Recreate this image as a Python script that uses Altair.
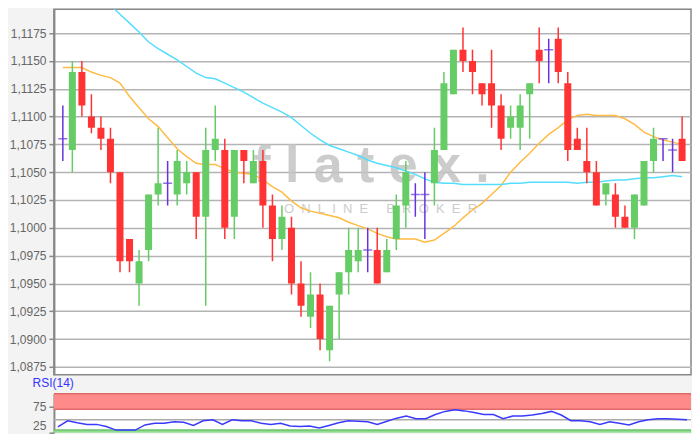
import altair as alt
import numpy as np
import pandas as pd

# ---- price candles ----
opens = [1.1080, 1.1070, 1.1140, 1.1100, 1.1090, 1.1080, 1.1050, 1.0990, 1.0950, 1.0980,
         1.1030, 1.1040, 1.1030, 1.1040, 1.1050, 1.1010, 1.1070, 1.1070, 1.1010, 1.1070,
         1.1040, 1.1060, 1.1020, 1.0990, 1.1000, 1.0950, 1.0920, 1.0940, 1.0890, 1.0940,
         1.0960, 1.0970, 1.0980, 1.0980, 1.0960, 1.0990, 1.1020, 1.1030, 1.1030, 1.1040,
         1.1070, 1.1120, 1.1160, 1.1150, 1.1130, 1.1130, 1.1110, 1.1090, 1.1090, 1.1120,
         1.1160, 1.1160, 1.1170, 1.1130, 1.1080, 1.1060, 1.1050, 1.1030, 1.1030, 1.1010,
         1.1000, 1.1020, 1.1060, 1.1080, 1.1070, 1.1080]
highs = [1.1110, 1.1150, 1.1150, 1.1120, 1.1100, 1.1090, 1.1050, 1.0990, 1.0980, 1.1030,
         1.1090, 1.1060, 1.1070, 1.1060, 1.1050, 1.1090, 1.1110, 1.1080, 1.1070, 1.1070,
         1.1070, 1.1070, 1.1030, 1.1020, 1.1010, 1.0970, 1.0960, 1.0950, 1.0930, 1.0960,
         1.1000, 1.1000, 1.1000, 1.1000, 1.0990, 1.1030, 1.1060, 1.1040, 1.1050, 1.1090,
         1.1140, 1.1160, 1.1180, 1.1160, 1.1130, 1.1160, 1.1120, 1.1110, 1.1120, 1.1130,
         1.1180, 1.1170, 1.1180, 1.1140, 1.1090, 1.1090, 1.1060, 1.1040, 1.1040, 1.1020,
         1.1030, 1.1060, 1.1090, 1.1080, 1.1080, 1.1100]
lows = [1.1060, 1.1050, 1.1100, 1.1085, 1.1070, 1.1040, 1.0960, 1.0960, 1.0930, 1.0970,
        1.1020, 1.1020, 1.1020, 1.1030, 1.0990, 1.0930, 1.1060, 1.0990, 1.0990, 1.1040,
        1.1040, 1.1000, 1.0970, 1.0980, 1.0940, 1.0920, 1.0910, 1.0890, 1.0880, 1.0900,
        1.0940, 1.0960, 1.0960, 1.0950, 1.0960, 1.0980, 1.1000, 1.1010, 1.0990, 1.1020,
        1.1070, 1.1120, 1.1140, 1.1120, 1.1110, 1.1090, 1.1070, 1.1080, 1.1070, 1.1080,
        1.1130, 1.1130, 1.1130, 1.1060, 1.1070, 1.1040, 1.1020, 1.1020, 1.1000, 1.1000,
        1.0990, 1.1020, 1.1050, 1.1060, 1.1050, 1.1060]
closes = [1.1080, 1.1140, 1.1110, 1.1090, 1.1080, 1.1050, 1.0970, 1.0970, 1.0970, 1.1030,
          1.1040, 1.1040, 1.1060, 1.1050, 1.1010, 1.1070, 1.1080, 1.1000, 1.1070, 1.1060,
          1.1060, 1.1020, 1.0990, 1.1010, 1.0950, 1.0930, 1.0940, 1.0900, 1.0930, 1.0960,
          1.0980, 1.0980, 1.0980, 1.0950, 1.0980, 1.1020, 1.1050, 1.1030, 1.1030, 1.1070,
          1.1130, 1.1160, 1.1150, 1.1140, 1.1120, 1.1110, 1.1080, 1.1100, 1.1110, 1.1130,
          1.1150, 1.1160, 1.1140, 1.1070, 1.1070, 1.1050, 1.1020, 1.1040, 1.1010, 1.1000,
          1.1030, 1.1060, 1.1080, 1.1080, 1.1070, 1.1060]

# ---- moving averages ----
ma_short = [1.1144, 1.1144, 1.1144, 1.1140, 1.1137, 1.1135, 1.1130, 1.1118, 1.1108, 1.1098,
            1.1091, 1.1081, 1.1071, 1.1064, 1.1058, 1.1057, 1.1057, 1.1053, 1.1050, 1.1049,
            1.1048, 1.1043, 1.1037, 1.1032, 1.1024, 1.1018, 1.1015, 1.1013, 1.1011, 1.1009,
            1.1005, 1.1002, 1.0999, 1.0995, 1.0992, 1.0990, 1.0990, 1.0990, 1.0987, 1.0989,
            1.0995, 1.1001, 1.1009, 1.1016, 1.1022, 1.1030, 1.1038, 1.1050, 1.1059, 1.1067,
            1.1076, 1.1084, 1.1090, 1.1097, 1.1101, 1.1102, 1.1101, 1.1101, 1.1101, 1.1098,
            1.1093, 1.1086, 1.1082, 1.1079, 1.1077, 1.1075]
ma_long = [None, None, None, None, 1.1203, 1.1200, 1.1192, 1.1184, 1.1176, 1.1167,
           1.1161, 1.1156, 1.1151, 1.1145, 1.1139, 1.1135, 1.1134, 1.1130, 1.1126, 1.1122,
           1.1117, 1.1112, 1.1108, 1.1104, 1.1099, 1.1092, 1.1085, 1.1079, 1.1074, 1.1071,
           1.1068, 1.1065, 1.1061, 1.1058, 1.1056, 1.1054, 1.1051, 1.1048, 1.1044, 1.1041,
           1.1040, 1.1040, 1.1039, 1.1039, 1.1039, 1.1039, 1.1039, 1.1040, 1.1040, 1.1041,
           1.1041, 1.1041, 1.1041, 1.1041, 1.1040, 1.1041, 1.1041, 1.1042, 1.1043, 1.1043,
           1.1044, 1.1045, 1.1045, 1.1046, 1.1047, 1.1046]

# ---- RSI(14) ----
rsi_vals = [36, 48, 44, 41, 41, 37, 30, 30, 30, 40,
            43, 43, 46, 45, 39, 48, 50, 41, 50, 48,
            48, 43, 41, 43, 38, 37, 38, 34, 39, 44,
            48, 47, 46, 41, 47, 53, 57, 52, 52, 60,
            66, 69, 67, 64, 60, 60, 52, 57, 57, 59,
            62, 66, 59, 48, 48, 46, 41, 46, 43, 40,
            46, 50, 52, 52, 51, 50]

price_ticks = [1.0875, 1.0900, 1.0925, 1.0950, 1.0975, 1.1000, 1.1025, 1.1050,
               1.1075, 1.1100, 1.1125, 1.1150, 1.1175]
rsi_ticks = [25, 75]

FONT = "Liberation Sans"
idx = list(range(len(opens)))
df = pd.DataFrame({"i": idx, "open": opens, "high": highs, "low": lows, "close": closes})
diff = np.round(df["close"] - df["open"], 6)
df["dir"] = np.where(diff == 0, "doji", np.where(diff > 0, "up", "down"))

ma_df = pd.DataFrame({"i": idx, "short": ma_short, "long": ma_long})
rsi_df = pd.DataFrame({"i": idx, "rsi": rsi_vals})

W = 638
xs = alt.Scale(domain=[-0.41, 65.41], nice=False, zero=False)
ys = alt.Scale(domain=[1.08679, 1.11964], nice=False, zero=False)
color = alt.Color("dir:N", legend=None,
                  scale=alt.Scale(domain=["up", "down", "doji"],
                                  range=["#66cc66", "#ff3333", "#6633dd"]))

yaxis = alt.Axis(values=price_ticks, tickCount=30, title=None,
                 labelExpr="replace(format(datum.value, '.4f'), '.', ',')",
                 grid=True, gridColor="#b3b3b3", gridWidth=1.5,
                 domainColor="#888888", domainWidth=2,
                 tickColor="#888888", tickSize=5, tickWidth=1.5,
                 labelColor="#666666", labelFont=FONT, labelFontSize=12, labelPadding=3)

X = alt.X("i:Q", scale=xs, axis=None)

wm1 = alt.Chart(pd.DataFrame({"t": ["f\u00a0l\u00a0a\u00a0t\u00a0e\u00a0x\u00a0."]})).mark_text(
    font=FONT, fontSize=52, fontWeight="bold", color="#c4c4c4", opacity=0.85,
    align="center", baseline="alphabetic").encode(x=alt.value(318), y=alt.value(173), text="t:N")
wm2 = alt.Chart(pd.DataFrame({"t": ["O\u00a0\u00a0N\u00a0\u00a0L\u00a0\u00a0I\u00a0\u00a0N\u00a0\u00a0E\u00a0\u00a0\u00a0\u00a0\u00a0B\u00a0\u00a0R\u00a0\u00a0O\u00a0\u00a0K\u00a0\u00a0E\u00a0\u00a0R"]})).mark_text(
    font=FONT, fontSize=13, color="#c4c4c4", opacity=0.85,
    align="center", baseline="alphabetic").encode(x=alt.value(327), y=alt.value(204), text="t:N")

ma_base = alt.Chart(ma_df).encode(x=X)
ma_s = ma_base.mark_line(color="#ffbb44", strokeWidth=1.5, clip=True).encode(
    y=alt.Y("short:Q", scale=ys, axis=yaxis))
ma_l = ma_base.mark_line(color="#55ddff", strokeWidth=1.5, clip=True).encode(
    y=alt.Y("long:Q", scale=ys, axis=yaxis))

base = alt.Chart(df).encode(x=X)
wicks = base.mark_rule(strokeWidth=1.5, clip=True).encode(
    y=alt.Y("low:Q", scale=ys, axis=yaxis), y2="high:Q", color=color)
bodies = base.transform_filter("datum.dir != 'doji'").mark_bar(size=7, clip=True).encode(
    y=alt.Y("open:Q", scale=ys, axis=yaxis), y2="close:Q", color=color)
dojis = base.transform_filter("datum.dir == 'doji'").mark_tick(
    orient="horizontal", size=9, thickness=1.5, clip=True).encode(
    y=alt.Y("open:Q", scale=ys, axis=yaxis), color=color)

main = alt.layer(wm1, wm2, ma_s, ma_l, wicks, bodies, dojis).properties(width=W, height=366)

rs = alt.Scale(domain=[25, 100], nice=False, zero=False)
raxis = alt.Axis(values=rsi_ticks, tickCount=10, title=None, grid=False, labelFlush=True,
                 domainColor="#888888", domainWidth=2,
                 tickColor="#888888", tickSize=5, tickWidth=1.5,
                 labelColor="#666666", labelFont=FONT, labelFontSize=12, labelPadding=3)

over_df = pd.DataFrame({"lo": [70], "hi": [100]})
under_df = pd.DataFrame({"lo": [25], "hi": [30]})
over_band = alt.Chart(over_df).mark_rect(color="#ff8a8a").encode(
    y=alt.Y("lo:Q", scale=rs, axis=raxis), y2="hi:Q")
under_band = alt.Chart(under_df).mark_rect(color="#8ede8e").encode(
    y=alt.Y("lo:Q", scale=rs, axis=raxis), y2="hi:Q")
over_edges = alt.Chart(pd.DataFrame({"v": [100, 70]})).mark_rule(
    color="#e06a6a", strokeWidth=1.5).encode(y=alt.Y("v:Q", scale=rs, axis=raxis))
under_edges = alt.Chart(pd.DataFrame({"v": [30]})).mark_rule(
    color="#6cc06c", strokeWidth=1.5).encode(y=alt.Y("v:Q", scale=rs, axis=raxis))
mid = alt.Chart(pd.DataFrame({"v": [50]})).mark_rule(color="#aaaaaa", strokeWidth=1.5).encode(
    y=alt.Y("v:Q", scale=rs, axis=raxis))
rsi_line = alt.Chart(rsi_df).mark_line(color="#3a3aff", strokeWidth=1.5, clip=True).encode(
    x=X, y=alt.Y("rsi:Q", scale=rs, axis=raxis))

rsi_chart = alt.layer(over_band, under_band, over_edges, under_edges, mid, rsi_line).properties(
    width=W, height=39,
    view=alt.ViewBackground(fill="white", stroke="transparent", strokeWidth=0),
    title=alt.TitleParams("RSI(14)", anchor="start", color="#3333ff", fontSize=12,
                          font=FONT, fontWeight="normal", offset=3))

chart = alt.vconcat(main, rsi_chart, spacing=19, bounds="flush").resolve_scale(
    color="independent", y="independent"
).properties(
    background="#f3f3f3",
    padding={"left": 0, "top": 0, "right": 0, "bottom": 0},
    autosize=alt.AutoSizeParams(type="pad"),
).configure_view(fill="white", stroke="#888888", strokeWidth=1.5)

chart.save("out.html", embed_options={"renderer": "svg", "actions": False})
